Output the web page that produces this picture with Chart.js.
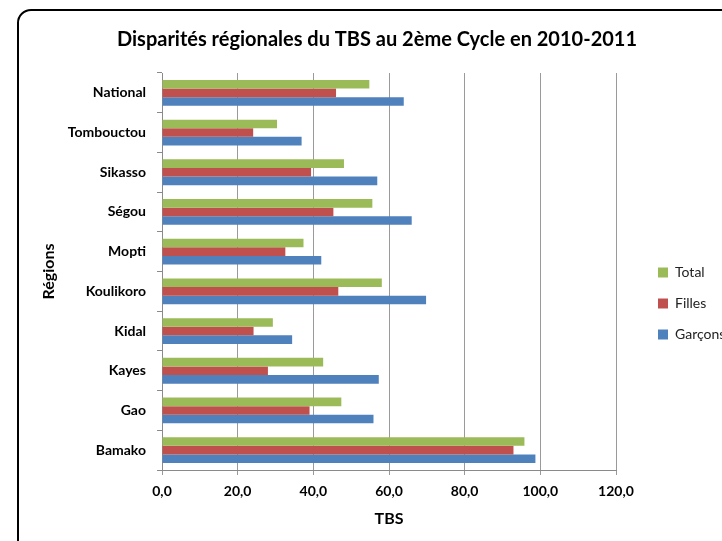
<!DOCTYPE html>
<html>
<head>
<meta charset="utf-8">
<script src="https://cdn.jsdelivr.net/npm/chart.js@4.4.1/dist/chart.umd.min.js"></script>
<style>
  html, body { margin: 0; padding: 0; width: 722px; height: 541px; overflow: hidden; background: #fff; }
  #frame { position: absolute; left: 17px; top: 9px; width: 780px; height: 600px; border: 2px solid #000; border-radius: 14px; }
  #tbs { position: absolute; left: 0; top: 0; }
</style>
</head>
<body>
<div id="frame"></div>
<canvas id="tbs" width="760" height="541"></canvas>
<script>
// regions, top to bottom as in the picture
const regions = ["National", "Tombouctou", "Sikasso", "Ségou", "Mopti", "Koulikoro", "Kidal", "Kayes", "Gao", "Bamako"];
const total   = [54.8, 30.4, 48.1, 55.6, 37.4, 58.1, 29.3, 42.6, 47.4, 95.8];
const filles  = [46.0, 24.1, 39.4, 45.3, 32.6, 46.6, 24.2, 28.0, 39.0, 92.9];
const garcons = [63.9, 36.9, 56.9, 66.0, 42.1, 69.8, 34.4, 57.3, 55.9, 98.7];
const xMin = 0, xMax = 120, xStep = 20;

const FONT = "Lato, 'Open Sans', sans-serif";

let tbs_chart = new Chart(document.getElementById("tbs"), {
  type: 'bar',
  data: {
    labels: regions,
    datasets: [
      { label: "Total",   data: total,   backgroundColor: "#9BBB59" },
      { label: "Filles",  data: filles,  backgroundColor: "#C0504D" },
      { label: "Garçons", data: garcons, backgroundColor: "#4F81BD" }
    ]
  },
  options: {
    indexAxis: 'y',
    responsive: false,
    animation: false,
    categoryPercentage: 0.65,
    barPercentage: 1.0,
    layout: { padding: { left: 32, right: 38, top: 0, bottom: 13 } },
    scales: {
      x: {
        min: xMin,
        max: xMax,
        ticks: {
          stepSize: xStep,
          color: "#000",
          padding: 8,
          font: { family: FONT, size: 14, weight: 'bold' },
          callback: (v) => v.toFixed(1).replace('.', ',')
        },
        grid: { color: "#9a9a9a", tickLength: 5, lineWidth: 1 },
        border: { color: "#8a8a8a", width: 1 },
        title: {
          display: true,
          text: "TBS",
          color: "#000",
          font: { family: FONT, size: 16, weight: 'bold' },
          padding: { top: 1, bottom: 0 }
        }
      },
      y: {
        ticks: {
          color: "#000",
          padding: 11,
          font: { family: FONT, size: 14, weight: 'bold' }
        },
        grid: { drawOnChartArea: false, color: "#8a8a8a", tickLength: 5 },
        border: { color: "#8a8a8a", width: 1 },
        title: {
          display: true,
          text: "Régions",
          color: "#000",
          font: { family: FONT, size: 16, weight: 'bold' },
          padding: { top: 7, bottom: 0 }
        },
        afterFit: (s) => { s.width = 130; }
      },
      // empty axis, only keeps a gap between plot and legend
      gap: {
        type: 'category',
        axis: 'y',
        position: 'right',
        display: true,
        grid: { display: false, drawTicks: false },
        border: { display: false },
        ticks: { display: false },
        afterFit: (s) => { s.width = 25; }
      }
    },
    plugins: {
      title: {
        display: true,
        text: "Disparités régionales du TBS au 2ème Cycle en 2010-2011",
        color: "#000",
        font: { family: FONT, size: 20, weight: 'bold' },
        padding: { top: 28, bottom: 21 }
      },
      legend: {
        position: 'right',
        maxWidth: 81,
        title: { display: true, text: " ", font: { size: 10 }, padding: { top: 67, bottom: 0 } },
        labels: {
          boxWidth: 10,
          boxHeight: 10,
          padding: 17,
          color: "#222",
          font: { family: FONT, size: 14 }
        }
      },
      tooltip: { enabled: false }
    }
  }
});
</script>
</body>
</html>
